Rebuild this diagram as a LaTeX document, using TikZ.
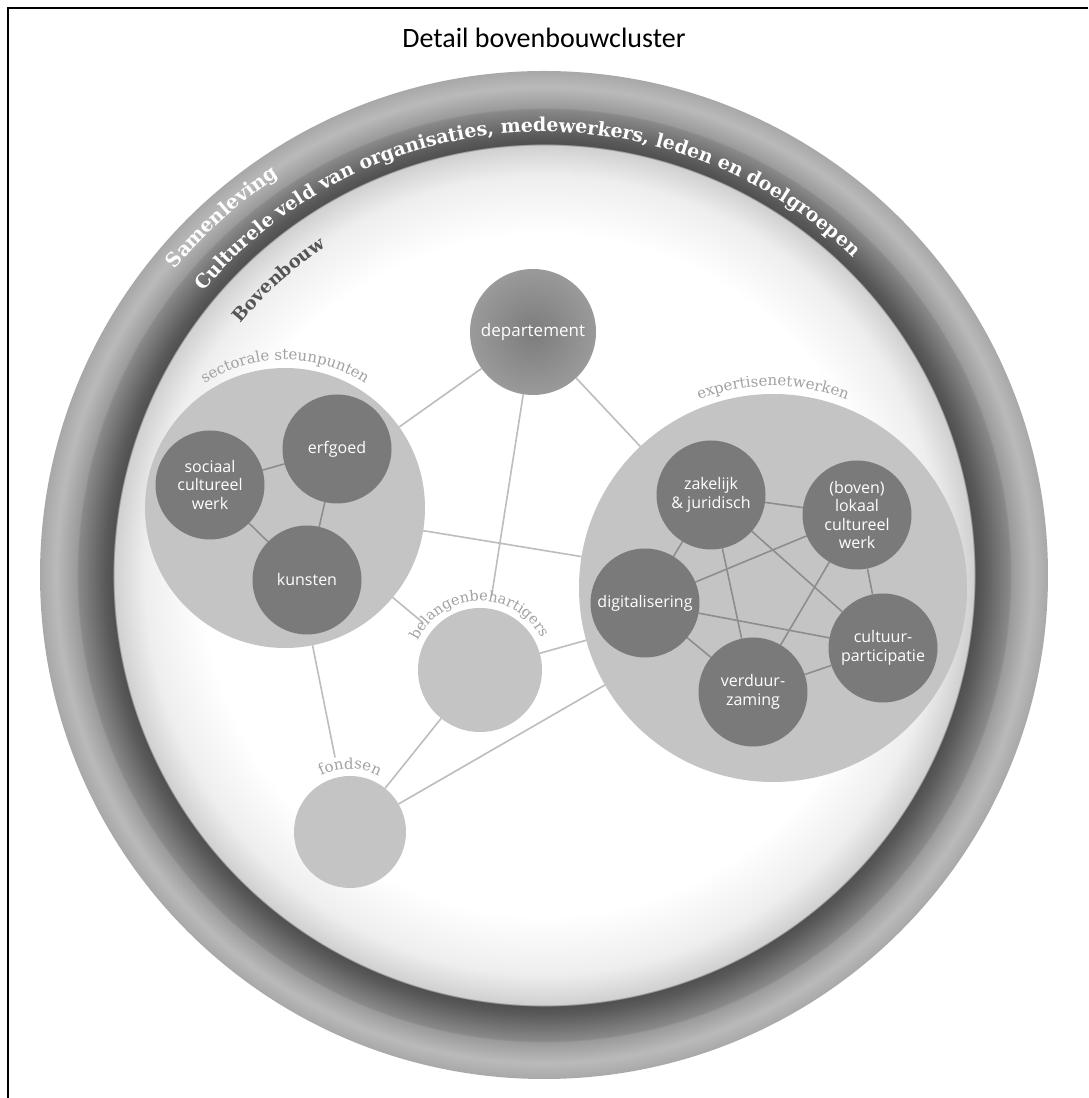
\documentclass[tikz,border=0pt]{standalone}
\usepackage{fontspec}
\setmainfont{Open Sans}
\newfontfamily\slabfont{DejaVu Serif}
\newfontfamily\titlefont{Carlito}
\newfontfamily\nodefont{Open Sans}
\usetikzlibrary{decorations.text}

\definecolor{linkout}{HTML}{BDBDBD}
\definecolor{linkin}{HTML}{8D8D8D}
\definecolor{darknode}{HTML}{7A7A7A}
\definecolor{lightnode}{HTML}{C4C4C4}
\definecolor{labelgray}{HTML}{A2A2A2}
\definecolor{bovengray}{HTML}{555555}
\definecolor{deptin}{HTML}{7C7C7C}
\definecolor{deptout}{HTML}{9A9A9A}
\definecolor{sA}{HTML}{FFFFFF}
\definecolor{sB}{HTML}{EEEEEE}
\definecolor{sC}{HTML}{D0D0D0}
\definecolor{sD}{HTML}{505050}
\definecolor{sE}{HTML}{5A5A5A}
\definecolor{sF}{HTML}{8A8A8A}
\definecolor{sG}{HTML}{9A9A9A}
\definecolor{sH}{HTML}{BABABA}
\definecolor{sI}{HTML}{A8A8A8}

\pgfdeclareradialshading{bigdisc}{\pgfpoint{0bp}{0bp}}{color(0bp)=(sA); color(16.9bp)=(sA); color(19.8bp)=(sB); color(21.33bp)=(sC); color(21.38bp)=(sD); color(21.8bp)=(sE); color(23.12bp)=(sF); color(23.17bp)=(sG); color(24.2bp)=(sH); color(25bp)=(sI); color(50bp)=(sI)}

\pgfdeclarelayer{back}
\pgfdeclarelayer{front}
\pgfsetlayers{back,main,front}

\tikzset{
  subnode/.style={circle, fill=darknode, minimum size=109, inner sep=0pt, outer sep=0pt,
    text=white, align=center, font=\nodefont\fontsize{16}{18.5}\selectfont},
  groupnode/.style={circle, fill=lightnode, inner sep=0pt, outer sep=0pt},
  deptnode/.style={circle, minimum size=126, inner sep=0pt, outer sep=0pt,
    inner color=deptin, outer color=deptout, text=white,
    font=\nodefont\fontsize{17}{20}\selectfont},
  linkouter/.style={draw=linkout, line width=1.6pt},
  linkinner/.style={draw=linkin, line width=1.6pt},
  titletext/.style={font=\titlefont\fontsize{28}{32}\selectfont, text=black},
}

\begin{document}
\begin{tikzpicture}[x=1pt,y=1pt]
\useasboundingbox (0,0) rectangle (1088,1098);
\begin{pgfonlayer}{back}
\fill[white] (0,0) rectangle (1088,1098);
\draw[line width=1.6pt, black] (8,0) -- (8,1090) -- (1088,1090);
\shade[shading=bigdisc] (544,523) circle[radius=504];
\end{pgfonlayer}

\node[titletext] (title) at (544,1060) {Detail bovenbouwcluster};

% group circles
\node[deptnode] (dep) at (533,766) {departement};
\node[groupnode, minimum size=280] (sec) at (285,590) {};
\node[groupnode, minimum size=388] (exp) at (773,510) {};
\node[groupnode, minimum size=124] (bel) at (480,428) {};
\node[groupnode, minimum size=112] (fon) at (350,266) {};

\begin{pgfonlayer}{front}
\node[subnode] (soc) at (210,613) {sociaal\\cultureel\\werk};
\node[subnode] (erf) at (337,649) {erfgoed};
\node[subnode] (kun) at (307,518) {kunsten};
\node[subnode] (zak) at (711,603) {zakelijk\\\& juridisch};
\node[subnode] (lok) at (857,583) {(boven)\\lokaal\\cultureel\\werk};
\node[subnode] (dig) at (645,495) {digitalisering};
\node[subnode] (cul) at (883,450) {cultuur-\\participatie};
\node[subnode] (ver) at (753,406) {verduur-\\zaming};
\end{pgfonlayer}

% outer links
\draw[linkouter] (sec) -- (dep);
\draw[linkouter, shorten >=14pt] (dep) -- (bel);
\draw[linkouter] (dep) -- (exp);
\draw[linkouter] (sec) -- (exp);
\draw[linkouter, shorten >=12pt] (sec) -- (bel);
\draw[linkouter, shorten >=20pt] (sec) -- (fon);
\draw[linkouter] (bel) -- (fon);
\draw[linkouter] (bel) -- (exp);
\draw[linkouter] (fon) -- (exp);

% inner links
\draw[linkinner] (soc) -- (erf);
\draw[linkinner] (erf) -- (kun);
\draw[linkinner] (soc) -- (kun);
\draw[linkinner] (zak) -- (lok);
\draw[linkinner] (zak) -- (dig);
\draw[linkinner] (zak) -- (ver);
\draw[linkinner] (zak) -- (cul);
\draw[linkinner] (lok) -- (dig);
\draw[linkinner] (lok) -- (ver);
\draw[linkinner] (lok) -- (cul);
\draw[linkinner] (dig) -- (cul);
\draw[linkinner] (dig) -- (ver);
\draw[linkinner] (ver) -- (cul);

% curved group labels
\begin{pgfonlayer}{front}
\path[decorate, decoration={text along path, text align=center, text color=labelgray,
  text={|\slabfont\fontsize{15}{15}\selectfont|sectorale steunpunten}}]
  ([shift={(170:148)}]sec.center) arc[start angle=170, end angle=10, radius=148];
\path[decorate, decoration={text along path, text align=center, text color=labelgray,
  text={|\slabfont\fontsize{15}{15}\selectfont|expertisenetwerken}}]
  ([shift={(150:202)}]exp.center) arc[start angle=150, end angle=30, radius=202];
\path[decorate, decoration={text along path, text align=center, text color=labelgray,
  text={|\slabfont\fontsize{14.5}{15}\selectfont|belangenbehartigers}}]
  ([shift={(181:69)}]bel.center) arc[start angle=181, end angle=1, radius=69];
\path[decorate, decoration={text along path, text align=center, text color=labelgray,
  text={|\slabfont\fontsize{15}{15}\selectfont|fondsen}}]
  ([shift={(180:63)}]fon.center) arc[start angle=180, end angle=0, radius=63];

% ring texts
\coordinate (ctr) at (544,523);
\path[decorate, decoration={text along path, text align=center, text color=white,
  text={|\slabfont\bfseries\fontsize{19.5}{20}\selectfont|Samenleving}}]
  ([shift={(172:479)}]ctr) arc[start angle=172, end angle=92, radius=479];
\path[decorate, decoration={text along path, text align=center, text color=white,
  text={|\slabfont\bfseries\fontsize{19}{20}\selectfont|Culturele veld van organisaties, medewerkers, leden en doelgroepen}}]
  ([shift={(170:443)}]ctr) arc[start angle=170, end angle=16, radius=443];
\path[decorate, decoration={text along path, text align=center, text color=bovengray,
  text={|\slabfont\bfseries\fontsize{18}{20}\selectfont|Bovenbouw}}]
  ([shift={(172:394)}]ctr) arc[start angle=172, end angle=92, radius=394];
\end{pgfonlayer}
\end{tikzpicture}
\end{document}
